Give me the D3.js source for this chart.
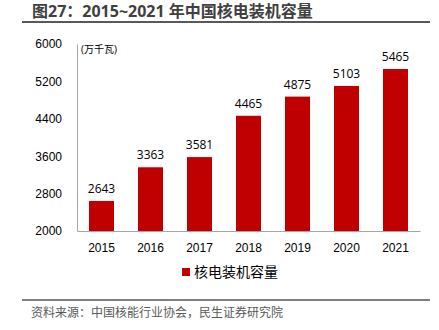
<!DOCTYPE html>
<html>
<head>
<meta charset="utf-8">
<script src="https://cdn.jsdelivr.net/npm/d3@7"></script>
<style>
  body { margin: 0; background: #fff; }
  svg { font-family: "Open Sans", "Noto Sans CJK SC", sans-serif; }
  .tick text { font-size: 12px; fill: #000; }
</style>
</head>
<body>
<div id="chart"></div>
<script>
// chart data
const YEARS = ["2015", "2016", "2017", "2018", "2019", "2020", "2021"];
const CAPACITY = [2643, 3363, 3581, 4465, 4875, 5103, 5465];
const Y_TICKS = [2000, 2800, 3600, 4400, 5200, 6000];

const TITLE = "图27：2015~2021 年中国核电装机容量";
const UNIT = "(万千瓦)";
const SERIES_NAME = "核电装机容量";
const SOURCE = "资料来源：中国核能行业协会，民生证券研究院";

const W = 439, H = 330;
const margin = { top: 44, right: 19, bottom: 99, left: 77 };

const svg = d3.select("#chart").append("svg").attr("width", W).attr("height", H);

// title + rules
svg.append("text")
  .attr("x", 32).attr("y", 17)
  .attr("font-size", 16).attr("font-weight", "bold").attr("fill", "#404040")
  .text(TITLE);

svg.append("line")
  .attr("x1", 22).attr("x2", 430).attr("y1", 22).attr("y2", 22)
  .attr("stroke", "#595959").attr("stroke-width", 2);

svg.append("line")
  .attr("x1", 22).attr("x2", 430).attr("y1", 300).attr("y2", 300)
  .attr("stroke", "#7f7f7f").attr("stroke-width", 2);

svg.append("text")
  .attr("x", 31).attr("y", 317)
  .attr("font-size", 12).attr("fill", "#595959")
  .text(SOURCE);

// plot
const width = W - margin.left - margin.right;
const height = H - margin.top - margin.bottom;
const g = svg.append("g").attr("transform", `translate(${margin.left},${margin.top})`);

const x = d3.scaleBand().domain(YEARS).range([0, width]).paddingInner(0.49).paddingOuter(0.245);
const y = d3.scaleLinear().domain([2000, 6000]).range([height, 0]);

const yAxis = g.append("g")
  .call(d3.axisLeft(y).tickValues(Y_TICKS).tickFormat(d3.format("d")).tickSize(0).tickPadding(15));
yAxis.select(".domain").attr("stroke", "#a6a6a6");

const xAxis = g.append("g")
  .attr("transform", `translate(0,${height})`)
  .call(d3.axisBottom(x).tickSize(0).tickPadding(12));
xAxis.select(".domain").attr("stroke", "#a6a6a6");

g.selectAll("rect.bar")
  .data(CAPACITY)
  .enter().append("rect")
  .attr("class", "bar")
  .attr("x", (d, i) => x(YEARS[i]))
  .attr("y", (d) => y(d))
  .attr("width", x.bandwidth())
  .attr("height", (d) => y(2000) - y(d))
  .attr("fill", "#c00000");

g.selectAll("text.val")
  .data(CAPACITY)
  .enter().append("text")
  .attr("class", "val")
  .attr("x", (d, i) => x(YEARS[i]) + x.bandwidth() / 2)
  .attr("y", (d) => y(d) - 8)
  .attr("text-anchor", "middle")
  .attr("font-size", 12).attr("fill", "#000")
  .text((d) => d);

g.append("text")
  .attr("x", 4).attr("y", 9)
  .attr("font-size", 10).attr("fill", "#000")
  .text(UNIT);

// legend
const legend = svg.append("g").attr("transform", "translate(182,268)");
legend.append("rect").attr("width", 8).attr("height", 8).attr("fill", "#c00000");
legend.append("text")
  .attr("x", 12).attr("y", 9)
  .attr("font-size", 14).attr("fill", "#000")
  .text(SERIES_NAME);
</script>
</body>
</html>
